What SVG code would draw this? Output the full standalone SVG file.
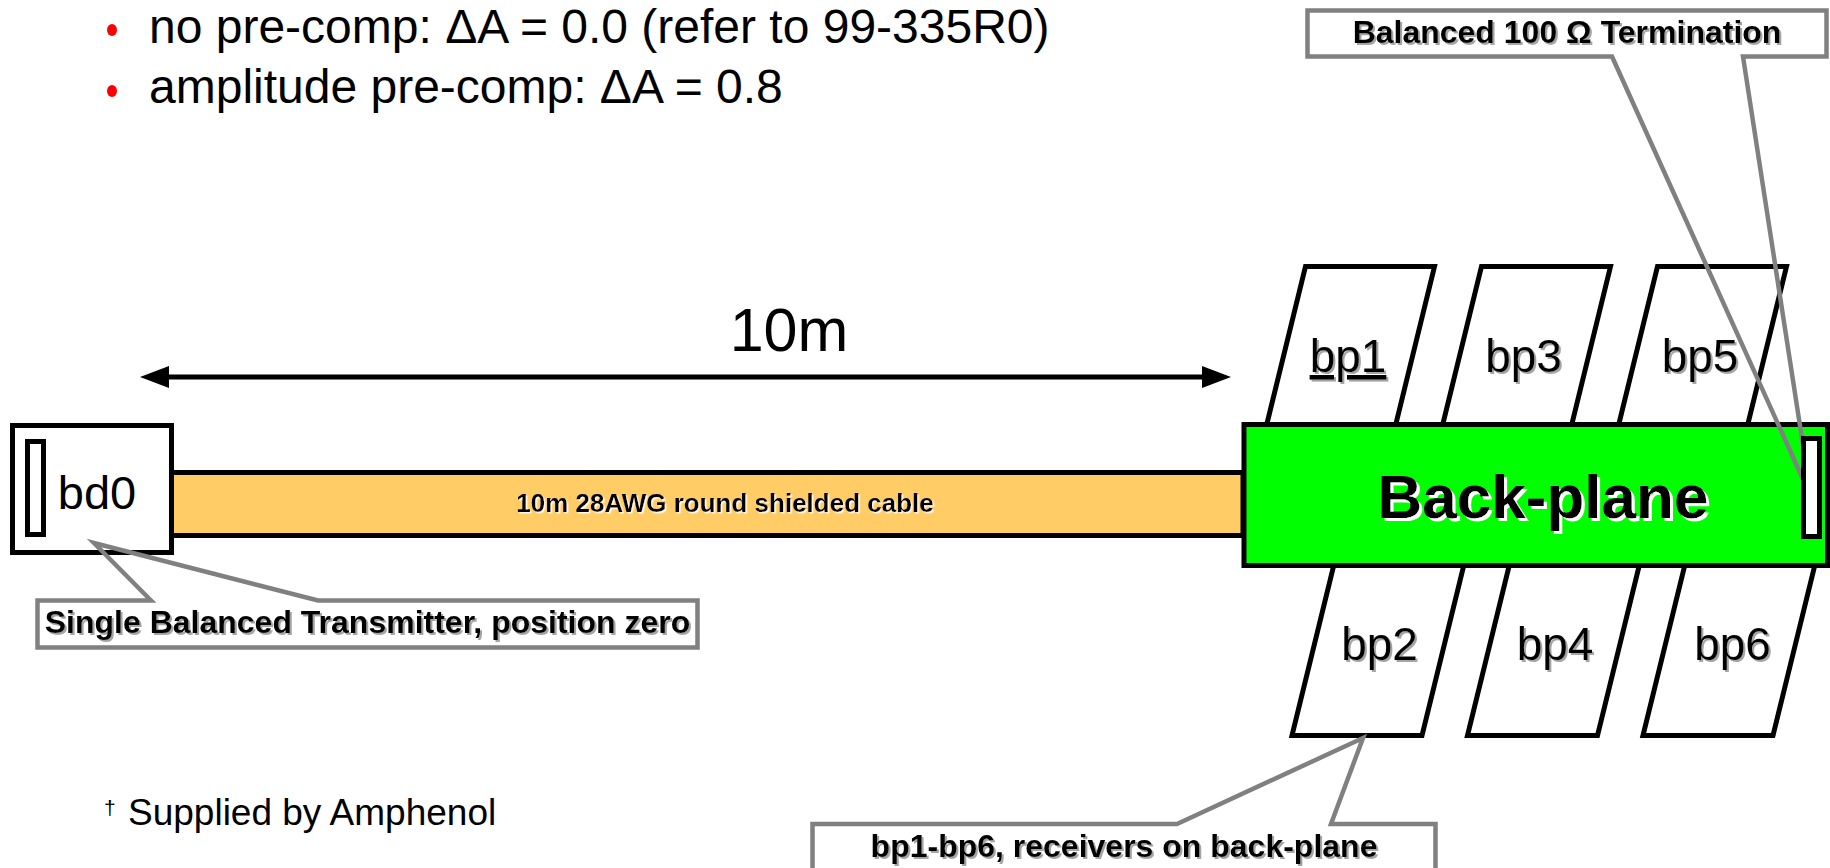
<svg xmlns="http://www.w3.org/2000/svg" width="1830" height="868" viewBox="0 0 1830 868">
<defs>
<style>
text{font-family:"Liberation Sans",Arial,sans-serif;fill:#000}
.bul{font-size:48px}
.dot{fill:#ff0000}
.blk{stroke:#000;stroke-width:5;stroke-linejoin:miter}
.para{fill:#fff}
.lbl{font-size:46px;text-anchor:middle;filter:url(#shGray)}
.co{fill:none;stroke:#808080;stroke-width:4.5;stroke-linejoin:miter}
.cofill{fill:#fff}
.cot{font-size:32px;font-weight:bold;text-anchor:middle;filter:url(#shGray)}
</style>
<filter id="shGray" x="-5%" y="-20%" width="115%" height="150%"><feDropShadow dx="2" dy="2" stdDeviation="0.5" flood-color="#7f7f7f" flood-opacity="0.7"/></filter>
<filter id="shWhite" x="-5%" y="-20%" width="115%" height="150%"><feDropShadow dx="3" dy="3" stdDeviation="0" flood-color="#ffffff" flood-opacity="1"/></filter>
<filter id="shLight" x="-5%" y="-20%" width="115%" height="150%"><feDropShadow dx="1.5" dy="1.5" stdDeviation="0" flood-color="#ffffff" flood-opacity="0.9"/></filter>
<marker id="ah" viewBox="0 0 29 22" refX="1" refY="11" markerWidth="29" markerHeight="22" markerUnits="userSpaceOnUse" orient="auto-start-reverse"><path d="M0,0 L29,11 L0,22 z" fill="#000"/></marker>
</defs>
<rect width="1830" height="868" fill="#fff"/>

<g id="bullets">
<ellipse class="dot" cx="112" cy="30" rx="5" ry="6"/>
<text class="bul" x="149" y="43">no pre-comp: ΔA = 0.0 (refer to 99-335R0)</text>
<ellipse class="dot" cx="112" cy="91" rx="5" ry="6"/>
<text class="bul" x="149" y="103">amplitude pre-comp: ΔA = 0.8</text>
</g>

<g id="connectors">
<line x1="168" y1="377" x2="1203" y2="377" stroke="#000" stroke-width="5" marker-start="url(#ah)" marker-end="url(#ah)"/>
<text x="789" y="351" font-size="61" text-anchor="middle">10m</text>
</g>

<g id="bp1"><polygon class="blk para" points="1305.5,266.5 1434.5,266.5 1389.5,450 1260.5,450"/><text class="lbl" x="1348" y="372" text-decoration="underline">bp1</text></g>
<g id="bp3"><polygon class="blk para" points="1481.5,266.5 1610.5,266.5 1565.5,450 1436.5,450"/><text class="lbl" x="1523.5" y="372">bp3</text></g>
<g id="bp5"><polygon class="blk para" points="1657.5,266.5 1786.5,266.5 1741.5,450 1612.5,450"/><text class="lbl" x="1700" y="372">bp5</text></g>
<g id="bp2"><polygon class="blk para" points="1340,540 1470,540 1422,735.5 1292,735.5"/><text class="lbl" x="1379.5" y="660">bp2</text></g>
<g id="bp4"><polygon class="blk para" points="1515.5,540 1645.5,540 1597.5,735.5 1467.5,735.5"/><text class="lbl" x="1555" y="660">bp4</text></g>
<g id="bp6"><polygon class="blk para" points="1691,540 1821,540 1773,735.5 1643,735.5"/><text class="lbl" x="1732.5" y="660">bp6</text></g>

<g id="cable">
<rect class="blk" x="170" y="472.5" width="1073" height="63" fill="#ffcc66"/>
<text x="725" y="512" font-size="26" font-weight="bold" text-anchor="middle" filter="url(#shLight)">10m 28AWG round shielded cable</text>
</g>

<g id="backplane">
<rect class="blk" x="1244" y="424.5" width="583.5" height="141" fill="#00ff00"/>
<text x="1543" y="518" font-size="62" font-weight="bold" text-anchor="middle" filter="url(#shWhite)">Back-plane</text>
</g>

<g id="bd0">
<rect class="blk" x="12.5" y="425.5" width="159" height="127" fill="#fff"/>
<rect class="blk" x="27.5" y="441.5" width="16" height="93" fill="#fff"/>
<text x="97" y="509" font-size="47" text-anchor="middle">bd0</text>
</g>

<g id="callout-termination">
<rect class="cofill" x="1307.5" y="10.5" width="519" height="46"/>
<path class="co" d="M1612,56.5 L1811,497 L1743,56.5 L1826.5,56.5 L1826.5,10.5 L1307.5,10.5 L1307.5,56.5 Z"/>
<text class="cot" x="1567" y="43">Balanced 100 Ω Termination</text>
</g>

<g id="termination">
<rect class="blk" x="1803.5" y="438.5" width="16" height="98" fill="#fff"/>
</g>

<g id="callout-transmitter">
<rect class="cofill" x="37.5" y="600.5" width="660" height="47"/>
<path class="co" d="M151,600.5 L94,543 L318,600.5 L697.5,600.5 L697.5,647.5 L37.5,647.5 L37.5,600.5 Z"/>
<text class="cot" x="367.5" y="633">Single Balanced Transmitter, position zero</text>
</g>

<g id="callout-receivers">
<rect class="cofill" x="812.5" y="824" width="623" height="80"/>
<path class="co" d="M1177,824 L1363,738 L1331,824 L1435.5,824 L1435.5,904 L812.5,904 L812.5,824 Z"/>
<text class="cot" x="1124" y="857">bp1-bp6, receivers on back-plane</text>
</g>

<g id="footnote">
<text x="104" y="815" font-size="21">†</text>
<text x="128" y="825" font-size="37">Supplied by Amphenol</text>
</g>
</svg>
